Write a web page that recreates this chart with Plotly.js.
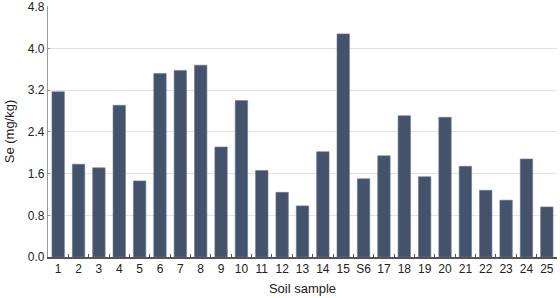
<!DOCTYPE html>
<html>
<head>
<meta charset="utf-8">
<script src="https://cdn.plot.ly/plotly-3.0.1.min.js"></script>
<style>html,body{margin:0;padding:0;background:#fff;}#chart{width:560px;height:298px;}</style>
</head>
<body>
<div id="chart"></div>
<script>
const samples = ["1","2","3","4","5","6","7","8","9","10","11","12","13","14","15","S6","17","18","19","20","21","22","23","24","25"];
const seValues = [3.17,1.78,1.71,2.91,1.46,3.52,3.58,3.68,2.11,3.00,1.66,1.24,0.98,2.02,4.28,1.50,1.94,2.71,1.54,2.68,1.74,1.28,1.09,1.88,0.96];
const yTicks = [0,0.8,1.6,2.4,3.2,4.0,4.8];

const trace = {
  type: 'bar',
  x: samples,
  y: seValues,
  marker: {color: '#44526b', line: {color: '#6b7890', width: 0.6}},
  hoverinfo: 'x+y'
};

const layout = {
  width: 560, height: 298,
  margin: {l: 48, r: 3, t: 6, b: 41, pad: 0},
  paper_bgcolor: '#fff', plot_bgcolor: '#fff',
  font: {family: 'Liberation Sans, Arial, sans-serif', size: 12, color: '#222'},
  bargap: 0.39,
  showlegend: false,
  xaxis: {
    type: 'category',
    tickson: 'boundaries',
    tickangle: 0,
    ticks: 'inside', ticklen: 3, tickcolor: '#555', tickwidth: 1,
    showline: true, linecolor: '#555', linewidth: 1.5,
    showgrid: false, zeroline: false,
    tickfont: {size: 12, color: '#222'},
    title: {text: 'Soil sample', font: {size: 13, color: '#222'}, standoff: 9},
    automargin: false
  },
  yaxis: {
    range: [0, 4.815],
    tickvals: yTicks,
    ticktext: yTicks.map(v => v.toFixed(1)),
    ticklabeloverflow: 'allow',
    ticks: 'inside', ticklen: 2, tickcolor: '#999',
    showline: true, linecolor: '#999', linewidth: 1.2,
    showgrid: true, gridcolor: '#e3e3e3', gridwidth: 1.2,
    zeroline: false,
    tickfont: {size: 12, color: '#222'},
    title: {text: 'Se (mg/kg)', font: {size: 13, color: '#222'}, standoff: 10},
    automargin: false
  }
};

Plotly.newPlot('chart', [trace], layout, {displayModeBar: false, staticPlot: true});
</script>
</body>
</html>
